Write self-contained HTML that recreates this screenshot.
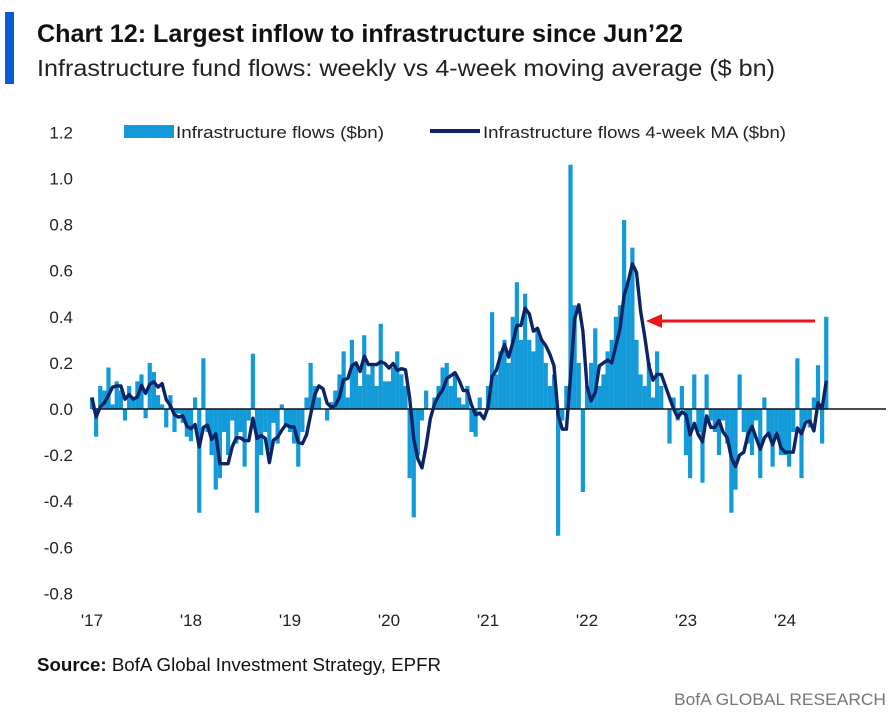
<!DOCTYPE html>
<html><head><meta charset="utf-8"><style>
html,body{margin:0;padding:0;background:#fff;}
svg{display:block;font-family:"Liberation Sans",sans-serif;}
</style></head><body>
<svg id="chart" width="890" height="716" viewBox="0 0 890 716" xmlns="http://www.w3.org/2000/svg">
<rect x="5" y="12" width="9" height="72" fill="#0a5bd6"/>
<text x="37" y="42" font-size="25" font-weight="bold" fill="#111" textLength="646" lengthAdjust="spacingAndGlyphs">Chart 12: Largest inflow to infrastructure since Jun’22</text>
<text x="37" y="76" font-size="23" fill="#222" textLength="738" lengthAdjust="spacingAndGlyphs">Infrastructure fund flows: weekly vs 4-week moving average ($ bn)</text>
<g>
<rect x="124" y="125" width="50" height="13" fill="#129ad9"/>
<text x="176" y="138" font-size="17" fill="#222" textLength="208" lengthAdjust="spacingAndGlyphs">Infrastructure flows ($bn)</text>
<line x1="430" y1="131" x2="480" y2="131" stroke="#0c2466" stroke-width="4"/>
<text x="483" y="138" font-size="17" fill="#222" textLength="303" lengthAdjust="spacingAndGlyphs">Infrastructure flows 4-week MA ($bn)</text>
</g>
<g id="yaxis"></g>
<g id="xaxis"></g>
<g id="bars"></g>
<line id="zero" x1="92" x2="886" stroke="#111" stroke-width="1.5"/>
<path id="ma" fill="none" stroke="#0c2466" stroke-width="3.4" stroke-linejoin="round"/>
<g>
<line x1="815" y1="321" x2="660" y2="321" stroke="#e8161b" stroke-width="3"/>
<polygon points="646,321 662,314 662,328" fill="#e8161b"/>
</g>
<text x="37" y="671" font-size="18" fill="#111" textLength="404" lengthAdjust="spacingAndGlyphs"><tspan font-weight="bold">Source:</tspan> BofA Global Investment Strategy, EPFR</text>
<text x="886" y="705" font-size="17" fill="#777" text-anchor="end" textLength="212" lengthAdjust="spacingAndGlyphs">BofA GLOBAL RESEARCH</text>
</svg>
<script>
const yTicks=[1.2,1.0,0.8,0.6,0.4,0.2,0.0,-0.2,-0.4,-0.6,-0.8];
const yTickLabels=["1.2","1.0","0.8","0.6","0.4","0.2","0.0","-0.2","-0.4","-0.6","-0.8"];
const xYears=[2017,2018,2019,2020,2021,2022,2023,2024];
const xYearLabels=["'17","'18","'19","'20","'21","'22","'23","'24"];
const flows2017=[0.05,-0.12,0.1,0.08,0.18,0.02,0.12,0.08,-0.05,0.1,0.04,0.12,0.15,-0.04,0.2,0.16,0.06,0.02,-0.08,0.06,-0.1,-0.02,-0.06,-0.12];
const flows2018=[-0.14,0.05,-0.45,0.22,-0.1,-0.2,-0.35,-0.3,-0.1,-0.2,-0.05,-0.15,-0.1,-0.25,-0.05,0.24,-0.45,-0.2,-0.1,-0.18,-0.06,-0.15,0.02,-0.08];
const flows2019=[-0.1,-0.15,-0.25,-0.1,0.05,0.2,0.1,0.05,0.0,-0.05,0.03,0.08,0.15,0.25,0.05,0.3,0.2,0.1,0.32,0.15,0.2,0.1,0.37,0.12];
const flows2020=[0.12,0.18,0.25,0.15,0.1,-0.3,-0.47,-0.2,-0.05,0.08,0.0,0.05,0.1,0.18,0.2,0.1,0.15,0.05,0.02,0.1,-0.1,-0.12,0.05,0.0];
const flows2021=[0.1,0.42,0.15,0.25,0.3,0.2,0.4,0.55,0.3,0.5,0.3,0.25,0.35,0.3,0.2,0.1,0.15,-0.55,-0.05,0.1,1.06,0.45,0.2,-0.36];
const flows2022=[0.1,0.2,0.35,0.1,0.15,0.25,0.3,0.4,0.45,0.82,0.55,0.7,0.3,0.15,0.1,0.2,0.05,0.25,0.1,0.0,-0.15,0.05,-0.05,0.1];
const flows2023=[-0.2,-0.3,0.15,-0.1,-0.32,0.15,-0.05,-0.1,-0.2,-0.05,-0.15,-0.45,-0.35,0.15,-0.1,-0.15,-0.2,-0.05,-0.3,0.05,-0.12,-0.25,-0.1,-0.2];
const flows2024=[-0.2,-0.25,-0.1,0.22,-0.3,-0.05,-0.08,0.05,0.19,-0.15,0.4];
const flows=[].concat(flows2017,flows2018,flows2019,flows2020,flows2021,flows2022,flows2023,flows2024);
const NS="http://www.w3.org/2000/svg";
const X0=92,PXYR=99,PERYR=24;
function xYear(yr){return X0+(yr-2017)*PXYR;}
function xIdx(i){return X0+i*PXYR/PERYR;}
function yVal(v){return 409-v*230.5;}
const ya=document.getElementById('yaxis');
yTicks.forEach((v,k)=>{const t=document.createElementNS(NS,'text');


t.setAttribute('x',73);t.setAttribute('y',yVal(v)+6);t.setAttribute('text-anchor','end');t.setAttribute('font-size','17');t.setAttribute('fill','#222');t.textContent=yTickLabels[k];ya.appendChild(t);});
const xa=document.getElementById('xaxis');
xYears.forEach((yr,k)=>{const t=document.createElementNS(NS,'text');


t.setAttribute('x',xYear(yr));t.setAttribute('y',626);t.setAttribute('text-anchor','middle');t.setAttribute('font-size','17');t.setAttribute('fill','#222');t.textContent=xYearLabels[k];xa.appendChild(t);});
const bg=document.getElementById('bars');
flows.forEach((v,i)=>{const r=document.createElementNS(NS,'rect');


const y0=yVal(0),y1=yVal(v);r.setAttribute('x',xIdx(i)-2.1);r.setAttribute('width',4.2);r.setAttribute('y',Math.min(y0,y1));r.setAttribute('height',Math.abs(y1-y0));r.setAttribute('fill','#129ad9');bg.appendChild(r);});
document.getElementById('zero').setAttribute('y1',yVal(0));document.getElementById('zero').setAttribute('y2',yVal(0));
let d='';
flows.forEach((v,i)=>{const w=flows.slice(Math.max(0,i-3),i+1);const m=w.reduce((a,b)=>a+b,0)/w.length;d+=(i?'L':'M')+xIdx(i).toFixed(1)+','+yVal(m).toFixed(1);});
document.getElementById('ma').setAttribute('d',d);
</script>
</body></html>
